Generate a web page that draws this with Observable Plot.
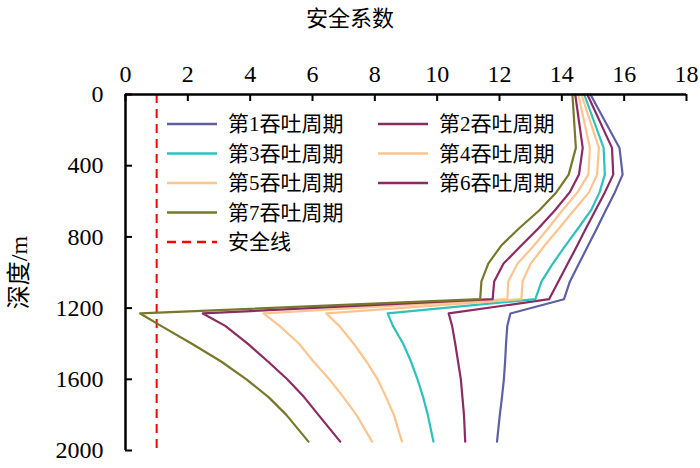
<!DOCTYPE html>
<html>
<head>
<meta charset="utf-8">
<script src="https://cdn.jsdelivr.net/npm/d3@7"></script>
<script src="https://cdn.jsdelivr.net/npm/@observablehq/plot@0.6"></script>
<style>
  html, body { margin: 0; padding: 0; background: #fff; }
  #chart { width: 700px; height: 468px; }
</style>
</head>
<body>
<div id="chart"></div>
<script>
// ---- data ----
const depths = [0, 300, 450, 550, 650, 750, 850, 950, 1050, 1150,
                1230, 1300, 1400, 1500, 1600, 1700, 1800, 1950];

const cycle1 = [14.92, 15.85, 15.95, 15.70, 15.41, 15.13, 14.84, 14.55, 14.26, 14.07,
                12.35, 12.25, 12.21, 12.18, 12.14, 12.08, 12.01, 11.92];
const cycle2 = [14.82, 15.61, 15.65, 15.38, 15.08, 14.78, 14.49, 14.19, 13.89, 13.59,
                10.37, 10.48, 10.58, 10.67, 10.76, 10.81, 10.86, 10.90];
const cycle3 = [14.72, 15.34, 15.38, 15.21, 14.94, 14.53, 14.11, 13.71, 13.35, 13.15,
                8.41, 8.58, 8.91, 9.16, 9.37, 9.55, 9.70, 9.88];
const cycle4 = [14.63, 15.19, 15.13, 14.87, 14.39, 13.92, 13.44, 13.00, 12.74, 12.70,
                6.44, 6.86, 7.32, 7.73, 8.09, 8.36, 8.61, 8.87];
const cycle5 = [14.53, 14.90, 14.85, 14.50, 14.02, 13.57, 13.10, 12.58, 12.28, 12.25,
                4.43, 4.94, 5.57, 6.03, 6.54, 6.99, 7.41, 7.91];
const cycle6 = [14.43, 14.67, 14.55, 14.25, 13.78, 13.26, 12.69, 12.13, 11.83, 11.78,
                2.48, 3.20, 3.92, 4.57, 5.19, 5.73, 6.19, 6.89];
const cycle7 = [14.34, 14.45, 14.22, 13.82, 13.28, 12.64, 12.05, 11.64, 11.42, 11.38,
                0.47, 1.14, 2.13, 3.07, 3.88, 4.59, 5.16, 5.87];

const seriesNames = ["第1吞吐周期", "第2吞吐周期", "第3吞吐周期", "第4吞吐周期",
                     "第5吞吐周期", "第6吞吐周期", "第7吞吐周期"];
const seriesColors = ["#5e60a3", "#8b2a63", "#30bfbf", "#fcc48c",
                      "#fbc592", "#8b2a63", "#77782a"];
const safetyValue = [1];
const safetyName = "安全线";
const xTicks = [0, 2, 4, 6, 8, 10, 12, 14, 16, 18];
const yTicks = [0, 400, 800, 1200, 1600, 2000];
const xTitle = "安全系数";
const yTitle = "深度/m";

// ---- build table ----
const allSeries = [cycle1, cycle2, cycle3, cycle4, cycle5, cycle6, cycle7];
const rows = [];
allSeries.forEach((vals, i) => {
  vals.forEach((v, j) => rows.push({series: seriesNames[i], depth: depths[j], value: v}));
});

const W = 700, H = 468;
const mL = 125, mR = 14, mT = 94, mB = 18;
const plotW = W - mL - mR, plotH = H - mT - mB;
const latinFont = "'Liberation Serif','Times New Roman',serif";
const cjkFont = "'Noto Sans CJK SC',sans-serif";

const chart = Plot.plot({
  width: W, height: H,
  marginLeft: mL, marginRight: mR, marginTop: mT, marginBottom: mB,
  style: `font-family: ${latinFont}; font-size: 24px; color: #000; background: #fff;`,
  x: {domain: [0, 18]},
  y: {domain: [0, 2000], reverse: true},
  color: {domain: seriesNames, range: seriesColors},
  marks: [
    Plot.ruleX(safetyValue, {x: d => d, stroke: "#ff0000", strokeWidth: 2, strokeDasharray: "9,6"}),
    Plot.line(rows, {x: "value", y: "depth", z: "series", stroke: "series", strokeWidth: 2.2}),
    Plot.ruleY([0], {stroke: "#000", strokeWidth: 2.5}),
    Plot.ruleX([0], {stroke: "#000", strokeWidth: 2.5}),
    Plot.tickX(xTicks, {x: d => d, insetBottom: plotH - 7, stroke: "#000", strokeWidth: 2}),
    Plot.tickY(yTicks, {y: d => d, insetRight: plotW - 7, stroke: "#000", strokeWidth: 2}),
    Plot.axisX(xTicks, {anchor: "top", tickSize: 0, tickPadding: 13, label: null, fontSize: 24,
                        tickFormat: d => String(d)}),
    Plot.axisY(yTicks, {anchor: "left", tickSize: 0, tickPadding: 22, label: null, fontSize: 24,
                        tickFormat: d => String(d)}),
    Plot.text([xTitle], {text: d => d, frameAnchor: "top", dx: -56, dy: -76,
                         textAnchor: "middle", lineAnchor: "middle", fontSize: 22}),
    Plot.text([yTitle], {text: d => d, frameAnchor: "left", dx: -106, rotate: -90,
                         textAnchor: "middle", lineAnchor: "middle", fontSize: 24})
  ]
});

// ---- legend (inside plot area, two columns) ----
const svg = d3.select(chart);
const leg = svg.append("g").attr("font-size", 21).attr("fill", "#000").attr("text-anchor", "start");
const legendItems = [
  {name: seriesNames[0], color: seriesColors[0], col: 0, row: 0},
  {name: seriesNames[1], color: seriesColors[1], col: 1, row: 0},
  {name: seriesNames[2], color: seriesColors[2], col: 0, row: 1},
  {name: seriesNames[3], color: seriesColors[3], col: 1, row: 1},
  {name: seriesNames[4], color: seriesColors[4], col: 0, row: 2},
  {name: seriesNames[5], color: seriesColors[5], col: 1, row: 2},
  {name: seriesNames[6], color: seriesColors[6], col: 0, row: 3},
  {name: safetyName, color: "#ff0000", col: 0, row: 4, dash: "9,6"}
];
const colX = [167, 378];
const rowY0 = 124, rowStep = 29.5;
legendItems.forEach(it => {
  const x = colX[it.col], y = rowY0 + it.row * rowStep;
  leg.append("line").attr("x1", x).attr("x2", x + 50).attr("y1", y).attr("y2", y)
    .attr("stroke", it.color).attr("stroke-width", 2.5)
    .attr("stroke-dasharray", it.dash || null);
  leg.append("text").attr("x", x + 61).attr("y", y).attr("dy", "0.35em")
    .attr("text-anchor", "start").text(it.name);
});

// ---- split every text into Latin (serif) and CJK runs ----
svg.selectAll("text").each(function () {
  const el = d3.select(this);
  const s = this.textContent;
  const runs = s.match(/[\x00-\x7F]+|[^\x00-\x7F]+/g) || [];
  el.text(null).style("font-family", latinFont);
  runs.forEach(r => {
    const ascii = /^[\x00-\x7F]+$/.test(r);
    el.append("tspan").style("font-family", ascii ? latinFont : cjkFont).text(r);
  });
});

document.getElementById("chart").appendChild(chart);
</script>
</body>
</html>
